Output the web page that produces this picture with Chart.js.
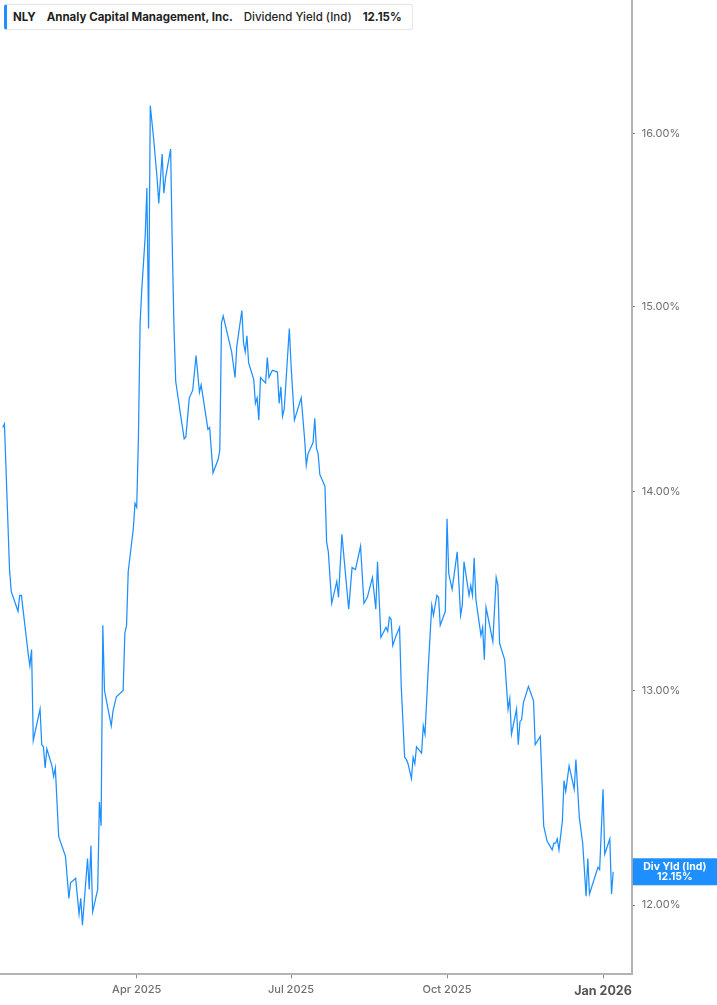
<!DOCTYPE html>
<html>
<head>
<meta charset="utf-8">
<script src="https://cdn.jsdelivr.net/npm/chart.js@4"></script>
<style>
  html, body { margin: 0; padding: 0; background: #ffffff; }
  #wrap { position: relative; width: 717px; height: 1005px; }
  #legend {
    position: absolute; left: 4px; top: 4px; width: 409px; height: 26px;
    box-sizing: border-box; background: #fff;
    border: 1px solid #e6e6e6; border-left: 3px solid #1e8fff; border-radius: 3px;
    display: flex; align-items: center; gap: 11px; padding-left: 6px;
    font-family: Inter, "Noto Sans", sans-serif; font-size: 11.5px; color: #1f1f1f;
    white-space: nowrap;
  }
  #legend .b { font-weight: 700; }
  #legend .n { font-weight: 500; }
</style>
</head>
<body>
<div id="wrap">
  <canvas id="c" width="717" height="1005"></canvas>
  <div id="legend">
    <span class="b">NLY</span>
    <span class="b">Annaly Capital Management, Inc.</span>
    <span class="n">Dividend Yield (Ind)</span>
    <span class="b">12.15%</span>
  </div>
</div>
<script>
// Days since 2025-01-01
const days = [
  11,12,15,16,20,21,22,26,27,28,
  29,33,34,35,36,37,40,41,42,44,
  48,50,51,54,56,57,58,61,62,63,
  64,67,68,69,70,71,75,76,78,82,
  83,84,85,88,89,90,91,92,93,95,
  96,97,98,100,102,103,105,106,107,110,
  111,112,113,116,118,119,121,123,125,127,
  128,132,133,135,138,139,140,141,146,148,
  149,152,153,154,155,156,159,160,161,162,
  163,166,167,168,170,173,174,175,176,177,
  180,181,183,187,189,190,191,194,195,196,
  197,198,201,202,203,205,208,209,211,215,
  217,219,222,224,226,229,231,232,234,237,
  238,239,240,241,243,245,246,248,249,250,
  252,253,254,255,258,259,260,262,264,265,
  267,268,269,272,273,274,276,279,281,282,
  283,286,287,288,289,290,293,294,295,296,
  300,302,303,304,307,309,310,311,314,315,
  316,317,318,321,324,325,328,330,332,335,
  336,337,338,339,341,342,343,345,348,349,
  351,353,355,356,357,362,363,365,366,369,
  370,371
];
// Dividend yield (%)
const yields = [
  14.34,14.36,13.60,13.49,13.39,13.47,13.47,13.18,13.12,13.20,
  12.76,12.91,12.74,12.73,12.63,12.72,12.64,12.59,12.63,12.31,
  12.22,12.03,12.10,12.12,11.96,12.03,11.91,12.21,12.07,12.27,
  11.97,12.07,12.47,12.36,13.32,13.00,12.83,12.90,12.97,13.00,
  13.28,13.32,13.59,13.81,13.94,13.92,14.28,14.91,15.10,15.40,
  15.68,14.88,16.17,15.97,15.74,15.59,15.88,15.65,15.74,15.91,
  15.33,14.88,14.59,14.40,14.28,14.29,14.50,14.54,14.73,14.53,
  14.57,14.33,14.34,14.10,14.17,14.22,14.91,14.95,14.75,14.61,
  14.78,14.98,14.80,14.75,14.84,14.69,14.60,14.47,14.50,14.38,
  14.61,14.58,14.72,14.61,14.65,14.64,14.47,14.56,14.40,14.44,
  14.88,14.68,14.38,14.50,14.28,14.14,14.20,14.26,14.39,14.23,
  14.20,14.09,14.03,13.74,13.69,13.43,13.54,13.46,13.78,13.40,
  13.61,13.60,13.72,13.43,13.46,13.56,13.40,13.64,13.26,13.31,
  13.29,13.36,13.35,13.22,13.27,13.31,13.02,12.68,12.67,12.65,
  12.58,12.68,12.65,12.73,12.70,12.83,12.79,13.12,13.42,13.37,
  13.47,13.46,13.32,13.39,13.86,13.58,13.50,13.69,13.37,13.42,
  13.64,13.47,13.52,13.47,13.66,13.45,13.27,13.31,13.15,13.41,
  13.24,13.56,13.52,13.23,13.15,12.91,12.96,12.79,12.91,12.74,
  12.85,12.86,12.94,13.02,12.95,12.74,12.78,12.36,12.29,12.25,
  12.28,12.28,12.30,12.25,12.38,12.57,12.52,12.64,12.53,12.67,
  12.40,12.28,12.04,12.21,12.05,12.17,12.16,12.53,12.23,12.30,
  12.05,12.15
];
const xTickDays = [90, 181, 273, 365];
const xTickLabels = ['Apr 2025', 'Jul 2025', 'Oct 2025', 'Jan 2026'];
const yTickValues = [12, 13, 14, 15, 16];
const badgeLines = ['Div Yld (Ind)', '12.15%'];

const LINE = '#1e8fff';
const FONT = 'Inter, "Noto Sans", sans-serif';

function zeroPad(scale) {
  scale.paddingTop = 0;
  scale.paddingBottom = 0;
  scale.paddingLeft = 0;
  scale.paddingRight = 0;
}

const badgePlugin = {
  id: 'badge',
  afterDraw(chart) {
    const ctx = chart.ctx;
    const ys = chart.scales.y;
    const area = chart.chartArea;
    const last = yields[yields.length - 1];
    const cy = ys.getPixelForValue(last);
    const h = 27;
    const x0 = area.right + 1;
    const w = chart.width - x0;
    ctx.save();
    ctx.fillStyle = LINE;
    ctx.fillRect(x0, cy - h / 2, w, h);
    ctx.fillStyle = '#ffffff';
    ctx.font = 'bold 10.5px ' + FONT;
    ctx.textAlign = 'center';
    ctx.textBaseline = 'middle';
    const cx = x0 + w / 2;
    ctx.fillText(badgeLines[0], cx, cy - 5);
    ctx.fillText(badgeLines[1], cx, cy + 5.5);
    ctx.restore();
  }
};

new Chart(document.getElementById('c'), {
  type: 'line',
  data: {
    datasets: [{
      data: days.map((d, i) => ({ x: d, y: yields[i] })),
      borderColor: LINE,
      borderWidth: 1.25,
      pointRadius: 0,
      pointHoverRadius: 0,
      tension: 0,
      fill: false
    }]
  },
  options: {
    responsive: false,
    animation: false,
    devicePixelRatio: 1,
    layout: { padding: 0 },
    plugins: { legend: { display: false }, tooltip: { enabled: false } },
    scales: {
      x: {
        type: 'linear',
        min: 9.38,
        max: 381.9,
        afterBuildTicks(scale) { scale.ticks = xTickDays.map(v => ({ value: v })); },
        afterFit(scale) { scale.height = 30.7; zeroPad(scale); },
        grid: { drawOnChartArea: false, drawTicks: true, tickLength: 4, color: '#8a8a8a', lineWidth: 1 },
        border: { display: true, color: '#b3b3b3', width: 2 },
        ticks: {
          autoSkip: false,
          maxRotation: 0,
          padding: 5,
          color: (c) => (c.tick && c.tick.value === 365) ? '#555555' : '#6e6e6e',
          font: (c) => (c.tick && c.tick.value === 365)
            ? { family: FONT, size: 12.5, weight: 'bold' }
            : { family: FONT, size: 11, weight: '500' },
          callback: (v) => { const i = xTickDays.indexOf(v); return i >= 0 ? xTickLabels[i] : ''; }
        }
      },
      y: {
        type: 'logarithmic',
        position: 'right',
        min: 11.694,
        max: 16.82,
        afterBuildTicks(scale) { scale.ticks = yTickValues.map(v => ({ value: v })); },
        afterFit(scale) { scale.width = 85.3; zeroPad(scale); },
        grid: { drawOnChartArea: false, drawTicks: true, tickLength: 3, color: '#666666', lineWidth: 1 },
        border: { display: true, color: '#b3b3b3', width: 2 },
        ticks: {
          autoSkip: false,
          padding: 7,
          color: '#6e6e6e',
          font: { family: FONT, size: 11 },
          callback: (v) => Number(v).toFixed(2) + '%'
        }
      }
    }
  },
  plugins: [badgePlugin]
});
</script>
</body>
</html>
